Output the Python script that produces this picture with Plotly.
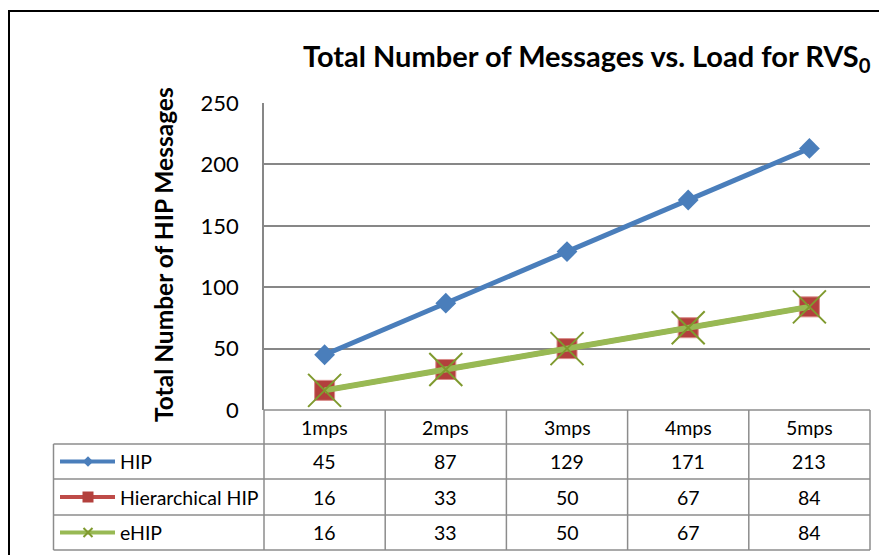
import plotly.graph_objects as go

categories = ["1mps", "2mps", "3mps", "4mps", "5mps"]
series_names = ["HIP", "Hierarchical HIP", "eHIP"]
hip = [45, 87, 129, 171, 213]
hier_hip = [16, 33, 50, 67, 84]
ehip = [16, 33, 50, 67, 84]
y_ticks = [0, 50, 100, 150, 200, 250]

W, H = 887, 555
OFF = 8  # page body margin in the browser
FONT = "Lato"
GRID = "#878787"


def px(x):
    return (x - OFF) / W


def py(y):
    return 1 - (y - OFF) / H


x_idx = list(range(len(categories)))

fig = go.Figure()
fig.add_trace(go.Scatter(
    x=x_idx, y=hip, mode="lines+markers", name=series_names[0],
    line=dict(color="#4A7EBB", width=5),
    marker=dict(symbol="diamond", size=16, color="#4A7EBB"),
))
fig.add_trace(go.Scatter(
    x=x_idx, y=hier_hip, mode="lines+markers", name=series_names[1],
    line=dict(color="#BE4B48", width=5),
    marker=dict(symbol="square", size=20, color="#B3403D",
                line=dict(color="#D98C8A", width=1)),
))
fig.add_trace(go.Scatter(
    x=x_idx, y=ehip, mode="lines+markers", name=series_names[2],
    line=dict(color="#98B954", width=6),
    marker=dict(symbol="x-thin", size=33, color="#7F9A2E",
                line=dict(color="#7F9A2E", width=2)),
))

# Legend keys inside the data table (separate full-figure axes in pixel units)
row_y = [461.5, 497, 532.5]
key_styles = [
    dict(line=dict(color="#4A7EBB", width=4),
         marker=dict(symbol="diamond", size=8, color="#4A7EBB")),
    dict(line=dict(color="#BE4B48", width=4),
         marker=dict(symbol="square", size=11, color="#B3403D")),
    dict(line=dict(color="#98B954", width=4),
         marker=dict(symbol="x-thin", size=9, color="#7F9A2E",
                     line=dict(color="#7F9A2E", width=2))),
]
for i, st in enumerate(key_styles):
    fig.add_trace(go.Scatter(
        x=[60 - OFF, 115 - OFF], y=[row_y[i] - OFF, row_y[i] - OFF], mode="lines",
        line=st["line"], xaxis="x2", yaxis="y2", showlegend=False,
        hoverinfo="skip"))
    fig.add_trace(go.Scatter(
        x=[88 - OFF], y=[row_y[i] - OFF], mode="markers", marker=st["marker"],
        xaxis="x2", yaxis="y2", showlegend=False, hoverinfo="skip"))

shapes = []
line_style = dict(color="#8C8C8C", width=1.5)
# outer border
shapes.append(dict(type="rect", xref="paper", yref="paper",
                   x0=px(9), x1=px(905), y0=py(575), y1=py(11),
                   line=dict(color="black", width=2)))
# table horizontal lines
shapes.append(dict(type="line", xref="paper", yref="paper",
                   x0=px(264), x1=px(870), y0=py(410), y1=py(410), line=line_style))
for yy in [444, 479, 515, 550]:
    shapes.append(dict(type="line", xref="paper", yref="paper",
                       x0=px(53.5), x1=px(870), y0=py(yy), y1=py(yy), line=line_style))
# table vertical lines
shapes.append(dict(type="line", xref="paper", yref="paper",
                   x0=px(53.5), x1=px(53.5), y0=py(444), y1=py(550), line=line_style))
for xx in [264, 385.2, 506.4, 627.6, 748.8, 870]:
    shapes.append(dict(type="line", xref="paper", yref="paper",
                       x0=px(xx), x1=px(xx), y0=py(410), y1=py(550), line=line_style))

annotations = []
annotations.append(dict(
    text="<b>Total Number of Messages vs. Load for RVS<sub>0</sub></b>",
    xref="paper", yref="paper", x=px(587), y=py(58), showarrow=False,
    font=dict(family=FONT, size=29, color="black"), xanchor="center", yanchor="middle"))
annotations.append(dict(
    text="<b>Total Number of HIP Messages</b>", textangle=-90,
    xref="paper", yref="paper", x=px(163), y=py(255), showarrow=False,
    font=dict(family=FONT, size=24.5, color="black"), xanchor="center", yanchor="middle"))

TFS = 19.5
col_w = (870 - 264) / len(categories)
for i, c in enumerate(categories):
    cx = 264 + col_w * (i + 0.5)
    annotations.append(dict(text=c, xref="paper", yref="paper", x=px(cx), y=py(427),
                            xanchor="center", yanchor="middle",
                            showarrow=False, font=dict(family=FONT, size=TFS, color="black")))
    for r, vals in enumerate([hip, hier_hip, ehip]):
        annotations.append(dict(text=str(vals[i]), xref="paper", yref="paper",
                                x=px(cx), y=py(row_y[r]), showarrow=False,
                                xanchor="center", yanchor="middle",
                                font=dict(family=FONT, size=TFS, color="black")))
for r, name in enumerate(series_names):
    annotations.append(dict(text=name, xref="paper", yref="paper", x=px(118), y=py(row_y[r]),
                            xanchor="left", yanchor="middle", showarrow=False,
                            font=dict(family=FONT, size=TFS, color="black")))

fig.update_layout(
    width=W, height=H, margin=dict(l=0, r=0, t=0, b=0, autoexpand=False),
    paper_bgcolor="white", plot_bgcolor="rgba(0,0,0,0)", showlegend=False,
    xaxis=dict(domain=[px(264), px(870)], range=[-0.5, 4.5], showticklabels=False,
               showgrid=False, zeroline=False, showline=False, fixedrange=True,
               automargin=False, anchor="y"),
    yaxis=dict(domain=[py(410), py(103)], range=[0, 250], tickvals=y_ticks,
               showgrid=True, gridcolor=GRID, gridwidth=1.5, zeroline=False,
               showline=True, linecolor=GRID, linewidth=1.5, ticks="",
               ticklabelstandoff=19, automargin=False, anchor="x",
               tickfont=dict(family=FONT, size=22, color="black")),
    xaxis2=dict(domain=[0, 1], range=[0, W], visible=False, anchor="y2",
                automargin=False, fixedrange=True),
    yaxis2=dict(domain=[0, 1], range=[H, 0], visible=False, anchor="x2",
                automargin=False, fixedrange=True),
    shapes=shapes, annotations=annotations,
)

fig.write_html("out.html")
